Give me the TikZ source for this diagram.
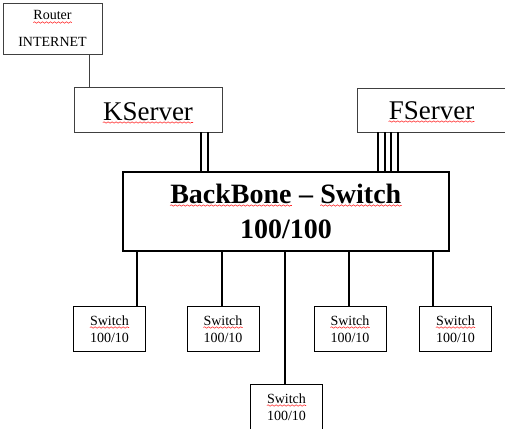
\documentclass[tikz,border=0pt]{standalone}
\usepackage{fontspec}
\setmainfont{Liberation Serif}
\usetikzlibrary{positioning, decorations.pathmorphing}
\newcommand{\spellmark}[1]{\draw[wave] ([yshift=-2.5pt]#1.base west) -- ([yshift=-2.5pt]#1.base east);}

\begin{document}
\begin{tikzpicture}[x=1pt,y=-1pt,
    box/.style={draw=black!75, line width=0.9pt, inner sep=0pt},
    swbox/.style={draw, line width=0.9pt, minimum width=72pt, minimum height=45pt, inner sep=0pt},
    lbl/.style={inner sep=0pt, anchor=base},
    txtsmall/.style={font=\fontsize{14}{17}\selectfont},
    txtbig/.style={font=\fontsize{27}{27}\selectfont},
    txtbold/.style={font=\fontsize{28}{35}\selectfont\bfseries},
    wave/.style={draw=red!85, line width=0.55pt, decorate,
      decoration={snake, amplitude=0.7pt, segment length=4pt}},
    trunk/.style={line width=1.8pt}]
  \useasboundingbox (0,0) rectangle (505,428);
  \clip (0,0) rectangle (505,428);
  % router
  \node[box, minimum width=99pt, minimum height=51pt] (router) at (52.5,28.5) {};
  \node[lbl, txtsmall] (router-a) at (52.5,20) {Router};
  \node[lbl, txtsmall] (router-b) at (52.5,47) {INTERNET};
  \spellmark{router-a}
  % servers
  \node[box, minimum width=148pt, minimum height=45pt] (kserver) at (148,109.5) {};
  \node[lbl, txtbig] (kserver-t) at (148,120) {KServer};
  \spellmark{kserver-t}
  \node[box, minimum width=149pt, minimum height=44pt] (fserver) at (431.5,110) {};
  \node[lbl, txtbig] (fserver-t) at (431.5,119) {FServer};
  \spellmark{fserver-t}
  % backbone
  \node[draw, line width=1.8pt, minimum width=326pt, minimum height=79pt] (backbone) at (286,211.5) {};
  \node[lbl, txtbold] (bb-dash) at (306,203) {--};
  \node[lbl, txtbold, base left=7pt of bb-dash] (bb-a) {BackBone};
  \node[lbl, txtbold, base right=7pt of bb-dash] (bb-b) {Switch};
  \node[lbl, txtbold] (bb-c) at (286,238) {100/100};
  \spellmark{bb-a}
  \spellmark{bb-b}
  % switches
  \foreach \n/\x/\y in {sw1/109.5/328.5, sw2/223/328.5, sw3/286.5/406.5, sw4/350/328.5, sw5/455.5/328.5} {
    \node[swbox] (\n) at (\x,\y) {};
    \node[lbl, txtsmall] (\n-a) at (\x,\y-3.5) {Switch};
    \node[lbl, txtsmall] (\n-b) at (\x,\y+13.5) {100/10};
    \spellmark{\n-a}
  }
  % links
  \draw[black!75, line width=0.9pt] (89,0 |- router.south) -- (89,0 |- kserver.north);
  \foreach \x in {201,208}
    \draw[trunk] (\x,0 |- kserver.south) -- (\x,0 |- backbone.north);
  \foreach \x in {378,385,391,398}
    \draw[trunk] (\x,0 |- fserver.south) -- (\x,0 |- backbone.north);
  \foreach \x/\s in {137/sw1,222/sw2,285/sw3,349/sw4,433/sw5}
    \draw[trunk] (\x,0 |- backbone.south) -- (\x,0 |- \s.north);
\end{tikzpicture}
\end{document}
